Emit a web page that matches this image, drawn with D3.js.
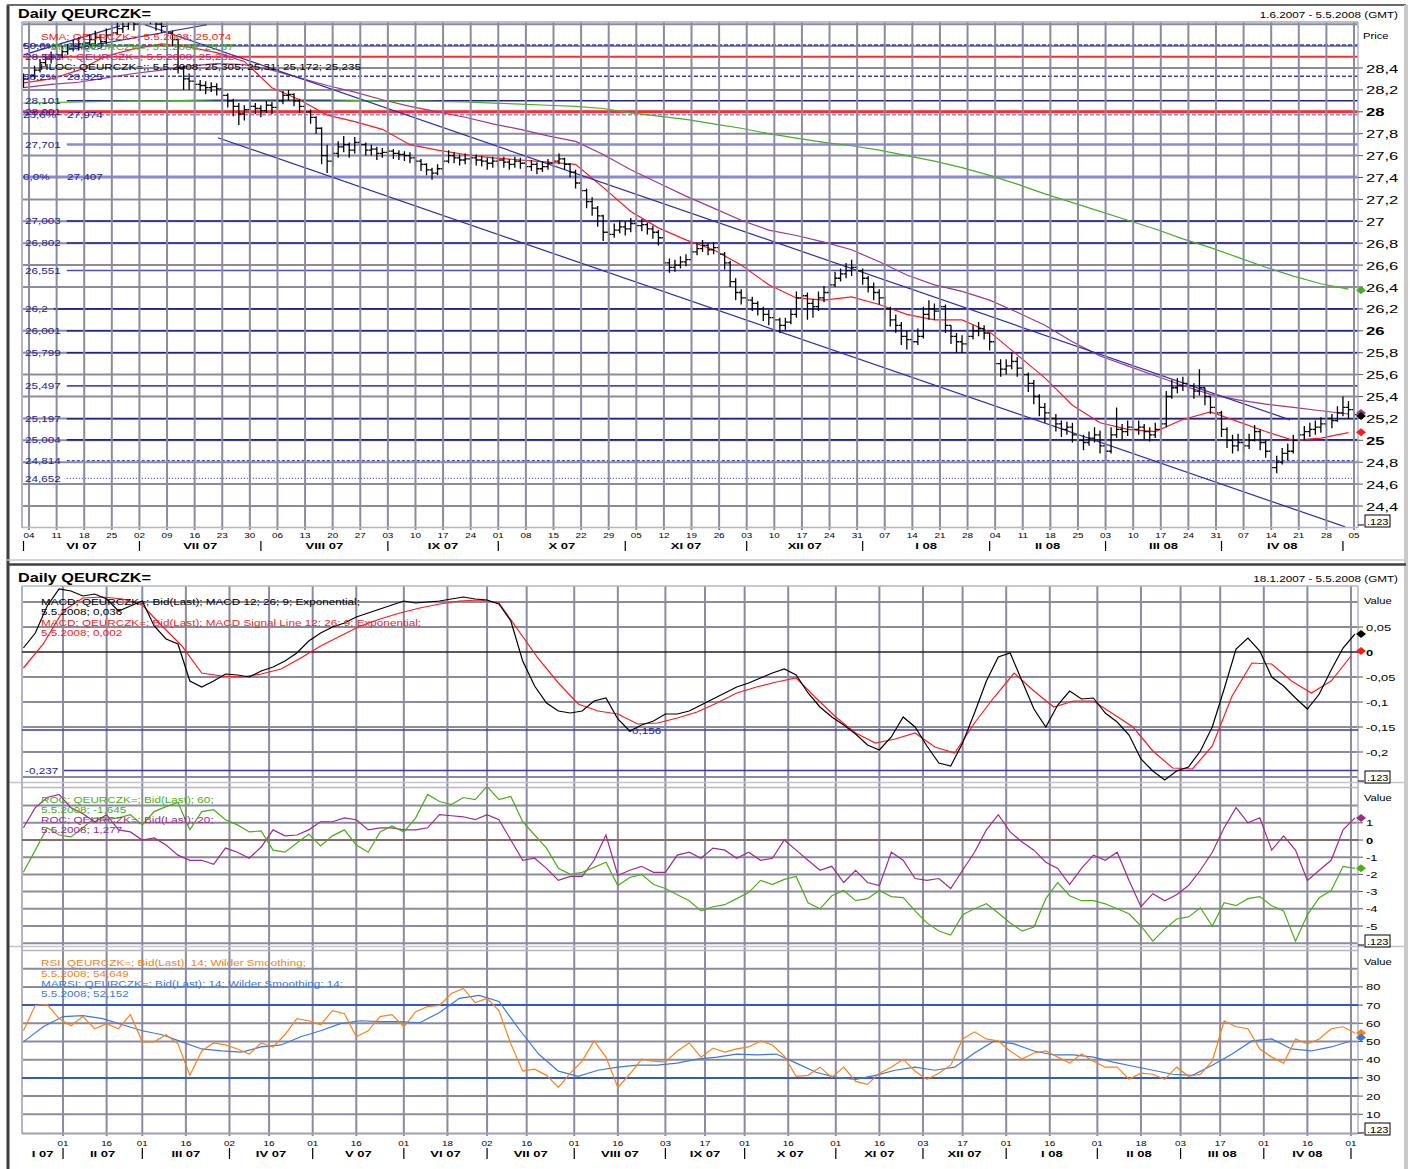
<!DOCTYPE html>
<html>
<head>
<meta charset="utf-8">
<script src="https://cdn.jsdelivr.net/npm/d3@7/dist/d3.min.js"></script>
<style>
body { margin: 0; background: #fff; }
svg { display: block; }
text { font-family: "Liberation Sans", Arial, sans-serif; }
</style>
</head>
<body>
<svg id="chart" width="1410" height="1169"></svg>
<script>
// ---------- top panel: daily bars 1.6.2007 - 5.5.2008 (one value per trading day) ----------
var closes = [28.30,
  28.33,28.38,28.45,28.48,28.50, 28.52,28.55,28.58,28.60,28.62, 28.63,28.66,28.68,28.64,28.70, 28.72,28.76,28.78,28.82,28.80,
  28.88,28.92,28.85,28.80,28.78, 28.72,28.66,28.40,28.30,28.28, 28.25,28.24,28.22,28.23,28.21, 28.15,28.10,28.05,27.98,28.02,
  28.05,28.03,28.01,28.06,28.04, 28.10,28.15,28.16,28.10,28.05, 28.00,27.95,27.85,27.60,27.55, 27.62,27.68,27.70,27.65,27.72,
  27.70,27.65,27.66,27.62,27.63, 27.64,27.62,27.61,27.60,27.58, 27.55,27.52,27.47,27.44,27.48, 27.55,27.60,27.58,27.56,27.57,
  27.58,27.56,27.55,27.53,27.55, 27.56,27.54,27.52,27.55,27.53, 27.50,27.52,27.48,27.50,27.53, 27.55,27.57,27.52,27.45,27.35,
  27.28,27.18,27.12,27.05,26.90, 26.88,26.92,26.95,26.93,26.98, 26.96,26.97,26.93,26.90,26.85, 26.62,26.58,26.60,26.63,26.65,
  26.72,26.75,26.78,26.74,26.76, 26.70,26.62,26.45,26.35,26.30, 26.28,26.25,26.20,26.15,26.12, 26.10,26.05,26.08,26.15,26.30,
  26.32,26.25,26.22,26.30,26.35, 26.42,26.48,26.52,26.55,26.58, 26.55,26.48,26.40,26.35,26.30, 26.20,26.10,26.05,25.95,25.92,
  25.90,25.95,26.15,26.20,26.18, 26.22,26.05,25.95,25.90,25.88, 25.95,26.00,26.02,25.98,25.90, 25.70,25.65,25.68,25.72,25.66,
  25.60,25.52,25.40,25.30,25.25, 25.20,25.15,25.10,25.12,25.05, 25.00,24.98,25.02,25.05,24.95, 24.90,25.05,25.10,25.08,25.12,
  25.10,25.12,25.08,25.05,25.10, 25.15,25.40,25.48,25.50,25.52, 25.50,25.45,25.48,25.40,25.30, 25.25,25.10,25.00,24.95,24.98,
  24.95,25.00,25.08,24.98,24.90, 24.75,24.80,24.88,24.90,25.00, 25.05,25.08,25.10,25.12,25.15, 25.20,25.18,25.25,25.30,25.28,
  25.235]
var highs = [28.35,
  28.38,28.42,28.48,28.52,28.55, 28.56,28.60,28.62,28.66,28.68, 28.68,28.71,28.74,28.70,28.76, 28.78,28.82,28.84,28.88,28.86,
  28.93,28.96,28.93,28.87,28.84, 28.80,28.74,28.67,28.42,28.35, 28.31,28.29,28.28,28.27,28.26, 28.22,28.17,28.12,28.08,28.06,
  28.09,28.08,28.06,28.10,28.09, 28.14,28.19,28.20,28.17,28.12, 28.07,28.02,27.96,27.86,27.70, 27.68,27.73,27.78,27.72,27.77,
  27.76,27.72,27.70,27.68,27.67, 27.68,27.66,27.65,27.64,27.63, 27.60,27.57,27.53,27.49,27.52, 27.58,27.65,27.63,27.61,27.62,
  27.62,27.61,27.60,27.58,27.59, 27.61,27.59,27.57,27.59,27.58, 27.56,27.56,27.54,27.55,27.57, 27.59,27.62,27.58,27.53,27.47,
  27.36,27.30,27.22,27.14,27.06, 26.95,26.98,27.01,27.00,27.03, 27.02,27.02,26.99,26.96,26.92, 26.80,26.66,26.65,26.68,26.70,
  26.76,26.80,26.83,26.80,26.81, 26.78,26.72,26.64,26.48,26.38, 26.34,26.31,26.27,26.22,26.19, 26.16,26.12,26.12,26.20,26.36,
  26.40,26.35,26.29,26.36,26.41, 26.47,26.54,26.57,26.62,26.65, 26.62,26.57,26.50,26.44,26.38, 26.32,26.22,26.15,26.08,26.00,
  25.97,26.02,26.22,26.28,26.25, 26.30,26.24,26.05,25.98,25.96, 26.00,26.05,26.08,26.05,25.98, 25.85,25.74,25.74,25.80,25.76,
  25.70,25.62,25.55,25.42,25.34, 25.30,25.24,25.18,25.17,25.16, 25.08,25.05,25.08,25.12,25.09, 24.98,25.12,25.30,25.15,25.18,
  25.17,25.18,25.15,25.12,25.16, 25.20,25.45,25.55,25.57,25.58, 25.57,25.52,25.65,25.48,25.40, 25.33,25.27,25.12,25.05,25.06,
  25.02,25.06,25.14,25.10,25.00, 24.92,24.86,24.93,24.97,25.05, 25.10,25.13,25.16,25.18,25.21, 25.26,25.24,25.31,25.40,25.36,
  25.31]
var lows = [28.22,
  28.26,28.30,28.36,28.42,28.44, 28.46,28.49,28.52,28.55,28.56, 28.57,28.60,28.62,28.58,28.62, 28.66,28.70,28.72,28.75,28.74,
  28.79,28.84,28.80,28.74,28.72, 28.66,28.60,28.35,28.20,28.20, 28.18,28.19,28.16,28.18,28.15, 28.10,28.04,27.96,27.88,27.92,
  27.96,27.98,27.95,27.99,27.98, 28.02,28.07,28.10,28.05,27.99, 27.94,27.89,27.80,27.52,27.44, 27.50,27.58,27.63,27.58,27.62,
  27.64,27.60,27.60,27.56,27.58, 27.58,27.57,27.56,27.55,27.53, 27.50,27.46,27.42,27.38,27.42, 27.46,27.53,27.53,27.51,27.52,
  27.52,27.51,27.50,27.47,27.49, 27.50,27.49,27.47,27.49,27.48, 27.45,27.46,27.43,27.45,27.47, 27.49,27.52,27.47,27.40,27.30,
  27.20,27.12,27.05,26.95,26.82, 26.80,26.85,26.89,26.87,26.90, 26.90,26.91,26.88,26.84,26.78, 26.55,26.53,26.54,26.57,26.59,
  26.64,26.69,26.72,26.69,26.70, 26.64,26.56,26.40,26.28,26.24, 26.21,26.18,26.14,26.09,26.05, 26.02,25.98,26.01,26.06,26.12,
  26.24,26.10,26.12,26.18,26.26, 26.33,26.40,26.45,26.48,26.50, 26.48,26.42,26.35,26.28,26.24, 26.14,26.04,25.98,25.87,25.83,
  25.82,25.87,25.93,26.10,26.10, 26.12,25.98,25.88,25.80,25.80, 25.86,25.92,25.95,25.92,25.82, 25.62,25.58,25.60,25.65,25.58,
  25.52,25.44,25.33,25.22,25.16, 25.12,25.08,25.03,25.05,24.98, 24.93,24.91,24.95,24.98,24.88, 24.82,24.88,25.02,25.01,25.04,
  25.03,25.05,25.01,24.99,25.02, 25.05,25.12,25.38,25.43,25.45, 25.44,25.38,25.41,25.32,25.24, 25.18,25.03,24.93,24.88,24.90,
  24.88,24.92,24.99,24.91,24.84, 24.30,24.70,24.78,24.82,24.88, 24.97,25.00,25.03,25.05,25.07, 25.12,25.11,25.17,25.22,25.20,
  25.172]

// moving averages, one value per week (every 5 trading days)
var smaRed = [28.265,28.30,28.38,28.51,28.575,28.62,28.59,28.54,28.46,28.22,28.11,27.97,27.91,27.84,27.70,27.65,27.61,27.58,27.56,27.54,
  27.52,27.31,27.09,26.94,26.83,26.74,26.60,26.42,26.30,26.28,26.31,26.24,26.15,26.10,26.10,25.99,25.78,25.57,25.32,25.16,
  25.10,25.08,25.19,25.26,25.17,25.08,25.00,25.02,25.07]
var smaPurple = [28.22,28.25,28.27,28.31,28.35,28.38,28.42,28.44,28.43,28.38,28.31,28.24,28.18,28.11,28.05,28.00,27.95,27.89,27.84,27.78,
  27.73,27.61,27.47,27.35,27.23,27.12,27.01,26.92,26.87,26.81,26.74,26.63,26.51,26.42,26.36,26.28,26.17,26.05,25.90,25.77,
  25.68,25.59,25.50,25.42,25.37,25.33,25.30,25.27,25.24]
var smaGreen = [28.08,28.085,28.09,28.095,28.10,28.10,28.105,28.11,28.11,28.11,28.11,28.11,28.105,28.10,28.10,28.095,28.09,28.08,28.07,28.06,
  28.05,28.03,27.99,27.96,27.93,27.89,27.85,27.80,27.76,27.72,27.69,27.65,27.60,27.55,27.49,27.42,27.34,27.25,27.17,27.09,
  27.01,26.93,26.84,26.76,26.67,26.58,26.50,26.43,26.38]
var lastTop = { red: 25.074, purple: 25.232, green: 26.37, close: 25.235 }

// horizontal levels (price) and fibonacci retracement
var fibLevels = [28.609, 28.325, 27.974, 27.407]
var fibPct = ['50,0%', '38,2%', '23,6%', '0,0%']
var redLevels = [28.503, 28.001]
var navyLevels = [28.101, 27.003, 26.802, 26.2, 26.001, 25.799, 25.197, 25.004]
var blueLevels = [26.551, 25.497]
var lightLevels = [27.701]
var dashedLevels = [24.814]
var dottedLevels = [24.652]
// trend lines: [trading day, price, trading day, price]
var trendLines = [[0, 28.52, 17.5, 28.785], [7.9, 28.566, 33.2, 28.795], [22, 28.795, 229.4, 25.187], [35.2, 27.763, 239.4, 24.21]]

var priceTicks = [28.4, 28.2, 28, 27.8, 27.6, 27.4, 27.2, 27, 26.8, 26.6, 26.4, 26.2, 26, 25.8, 25.6, 25.4, 25.2, 25, 24.8, 24.6, 24.4]
var topMonthStarts = ['2007-06-01','2007-07-02','2007-08-01','2007-09-03','2007-10-01','2007-11-01','2007-12-03','2008-01-01','2008-02-01','2008-03-03','2008-04-01','2008-05-01']
var topMonthNames = ['VI 07','VII 07','VIII 07','IX 07','X 07','XI 07','XII 07','I 08','II 08','III 08','IV 08']

// ---------- bottom panels 18.1.2007 - 5.5.2008 ----------
// MACD every 3 trading days, signal every 5
var macd = [0.008,0.038,0.092,0.126,0.122,0.112,0.116,0.106,0.082,0.092,
  0.102,0.052,0.026,0.016,-0.058,-0.070,-0.058,-0.044,-0.046,-0.050,
  -0.038,-0.030,-0.018,-0.002,0.022,0.038,0.050,0.058,0.070,0.078,
  0.086,0.094,0.102,0.098,0.100,0.102,0.106,0.110,0.106,0.104,
  0.096,0.062,-0.018,-0.068,-0.102,-0.118,-0.122,-0.118,-0.098,-0.092,
  -0.134,-0.158,-0.146,-0.138,-0.124,-0.124,-0.118,-0.106,-0.094,-0.082,
  -0.070,-0.062,-0.052,-0.042,-0.034,-0.046,-0.082,-0.110,-0.130,-0.146,
  -0.164,-0.186,-0.196,-0.170,-0.130,-0.150,-0.188,-0.222,-0.228,-0.182,
  -0.122,-0.058,-0.010,-0.002,-0.058,-0.114,-0.150,-0.106,-0.078,-0.094,
  -0.092,-0.122,-0.140,-0.166,-0.214,-0.238,-0.256,-0.238,-0.230,-0.198,
  -0.150,-0.074,0.006,0.028,0.002,-0.050,-0.068,-0.092,-0.114,-0.084,
  -0.036,0.008,0.036]
var macdSignal = [-0.032,0.016,0.082,0.108,0.110,0.106,0.094,0.052,0.012,-0.042,
  -0.048,-0.050,-0.044,-0.034,-0.012,0.012,0.032,0.052,0.066,0.078,
  0.088,0.096,0.102,0.104,0.098,0.042,-0.014,-0.062,-0.104,-0.118,
  -0.124,-0.144,-0.142,-0.132,-0.120,-0.102,-0.082,-0.070,-0.060,-0.052,
  -0.092,-0.130,-0.162,-0.182,-0.174,-0.162,-0.190,-0.202,-0.142,-0.090,
  -0.042,-0.078,-0.110,-0.098,-0.098,-0.124,-0.150,-0.198,-0.232,-0.234,
  -0.188,-0.088,-0.022,-0.024,-0.058,-0.082,-0.058,-0.008]
var macdLevels = [-0.156, -0.237]
// ROC every 3 trading days
var roc60 = [-1.88,-0.59,0.71,0.29,0.18,0.71,1.29,1.18,1.29,1.47,
  0.88,1.65,1.94,2.18,0.59,1.65,1.76,1.18,0.88,0.47,
  0.53,-0.59,-0.71,-0.18,0.35,-0.35,0.24,0.59,-0.29,-0.71,
  0.47,0.82,0.47,1.29,2.65,2.24,2.06,2.47,2.35,3.12,
  2.35,2.53,1.06,0.29,-0.47,-1.65,-2.0,-1.88,-1.59,-1.29,
  -2.65,-2.18,-2.0,-2.59,-2.82,-3.18,-3.53,-4.12,-3.88,-3.76,
  -3.41,-3.06,-2.35,-2.59,-2.29,-2.12,-3.65,-4.0,-3.24,-2.94,
  -3.53,-3.41,-2.94,-3.29,-3.35,-4.12,-4.82,-5.29,-5.53,-4.35,
  -4.0,-3.71,-4.24,-4.82,-5.29,-5.06,-3.41,-2.47,-3.24,-3.53,
  -3.53,-3.71,-4.0,-4.29,-5.0,-5.88,-5.18,-4.59,-4.47,-3.94,
  -5.0,-3.65,-3.82,-3.41,-3.29,-3.82,-4.12,-5.88,-4.35,-3.35,
  -2.94,-1.53,-1.645]
var roc20 = [0.71,1.88,2.47,2.65,1.88,1.53,1.06,1.47,0.59,0.47,
  0.0,0.12,-0.29,-0.88,-1.18,-1.18,-1.41,-0.47,-0.71,-1.06,
  -0.41,0.59,0.24,0.29,0.59,1.06,1.06,1.29,1.18,0.59,
  0.71,0.71,0.59,0.59,0.71,1.47,1.41,1.35,1.18,1.47,
  1.18,0.0,-1.18,-1.06,-1.65,-2.35,-2.12,-2.12,-1.18,0.29,
  -2.06,-1.76,-1.53,-1.88,-1.88,-0.88,-0.71,-1.06,-0.47,-0.59,
  -1.06,-0.71,-1.18,-1.06,0.0,-0.59,-1.18,-1.76,-1.53,-2.47,
  -1.76,-2.47,-2.65,-0.71,-1.18,-2.24,-2.35,-2.24,-2.82,-1.76,
  -0.71,0.59,1.47,0.47,-0.12,-0.59,-1.29,-1.65,-2.59,-1.65,
  -0.88,-1.18,-0.71,-2.35,-3.88,-3.12,-3.53,-3.18,-2.65,-1.76,
  -0.71,0.71,1.88,1.0,1.29,-0.59,0.24,-0.59,-2.35,-1.76,
  -1.18,0.59,1.29]
// RSI every 3 trading days, MARSI every 5
var rsi = [55.9,69.8,70.3,62.6,58.7,63.7,57.0,59.8,57.0,64.8,
  49.8,49.8,53.7,48.7,31.4,44.8,49.2,48.1,45.9,43.1,
  49.2,47.0,53.7,62.6,61.4,59.2,67.0,65.3,52.6,55.9,
  63.7,64.8,58.1,66.4,69.2,69.8,76.4,79.2,71.4,73.7,
  67.0,48.7,33.7,34.8,31.4,24.8,32.6,39.2,50.3,41.4,
  24.8,32.0,40.3,39.2,38.7,44.8,49.2,41.4,46.4,44.2,
  45.9,47.0,50.3,48.1,42.0,30.9,31.4,35.9,30.3,35.9,
  28.1,26.4,32.6,35.9,40.3,33.7,29.2,32.6,37.0,51.4,
  55.3,51.4,50.3,44.8,40.3,43.7,44.8,41.4,38.1,43.1,
  39.2,35.9,35.9,29.2,32.6,32.0,29.2,35.9,30.9,32.0,
  39.2,61.4,58.1,57.0,45.9,41.4,38.1,51.4,48.7,51.4,
  57.0,58.1,54.649]
var marsi = [49.8,58.1,63.7,64.2,62.6,59.2,55.9,53.7,49.8,45.9,
  44.8,44.2,47.0,48.1,52.6,55.9,59.8,61.4,60.9,60.9,
  60.3,65.9,73.7,75.3,72.0,57.0,43.1,33.7,30.9,34.2,
  35.9,37.0,37.0,38.1,40.3,41.4,43.1,42.6,43.1,38.1,
  33.1,30.3,29.2,31.4,34.2,35.9,34.2,35.9,43.7,50.3,
  48.7,44.8,42.6,42.6,41.4,38.7,36.4,34.2,32.0,31.4,
  37.0,43.1,50.3,51.4,45.9,44.8,47.0,50.3]
var rsiLevels = [70, 30]
var lastBottom = { macd: 0.036, signal: 0.002, roc60: -1.645, roc20: 1.277, rsi: 54.649, marsi: 52.152 }

var bottomTicks = ['2007-02-01','2007-02-16','2007-03-01','2007-03-16','2007-04-02','2007-04-16','2007-05-01','2007-05-16',
  '2007-06-01','2007-06-18','2007-07-02','2007-07-16','2007-08-01','2007-08-16','2007-09-03','2007-09-17','2007-10-01',
  '2007-10-16','2007-11-01','2007-11-16','2007-12-03','2007-12-17','2008-01-01','2008-01-16','2008-02-01','2008-02-18',
  '2008-03-03','2008-03-17','2008-04-01','2008-04-16','2008-05-01']
var bottomMonthNames = ['I 07','II 07','III 07','IV 07','V 07','VI 07','VII 07','VIII 07','IX 07','X 07','XI 07','XII 07','I 08','II 08','III 08','IV 08']
var macdTicks = [0.05, 0, -0.05, -0.1, -0.15, -0.2]
var rocTicks = [1, 0, -1, -2, -3, -4, -5]
var rsiTicks = [80, 70, 60, 50, 40, 30, 20, 10]

// ---------------------------------------------------------------
var svg = d3.select('#chart')
var GRID = '#8b8b9f'
var NAVY = '#22229a'
var parse = d3.timeParse('%Y-%m-%d')
var comma = function(v) { return String(v).replace('.', ',') }

function txt(g, x, y, s, o) {
    o = o || {}
    return g.append('text')
        .attr('transform', 'translate(' + x + ',' + y + ') scale(' + (o.sx || 1.26) + ',1)')
        .attr('font-size', o.size || 9.3)
        .attr('font-weight', o.bold ? 'bold' : 'normal')
        .attr('text-anchor', o.anchor || 'start')
        .attr('fill', o.fill || '#000')
        .text(s)
}
function ln(g, x1, y1, x2, y2, col, w, dash) {
    return g.append('line')
        .attr('x1', x1).attr('y1', y1).attr('x2', x2).attr('y2', y2)
        .attr('stroke', col).attr('stroke-width', w)
        .attr('stroke-dasharray', dash || null)
}
function tradeIdx(start, d) {
    return d3.timeDay.range(start, d).filter(function(x) { return x.getDay() % 6 !== 0 }).length
}
function diamond(g, x, y, col) {
    g.append('path').attr('d', 'M' + (x - 5) + ',' + y + 'L' + x + ',' + (y - 4) + 'L' + (x + 5) + ',' + y + 'L' + x + ',' + (y + 4) + 'Z')
        .attr('fill', col)
}
function valueBox(g, y) {
    g.append('rect').attr('x', 1365).attr('y', y - 6).attr('width', 25).attr('height', 12)
        .attr('fill', '#fff').attr('stroke', '#000').attr('stroke-width', 1)
    txt(g, 1367, y + 3.5, '.123', { size: 8.5, sx: 1.3 })
    ln(g, 1358, y + 4, 1364, y + 4, '#000', 1)
}

var defs = svg.append('defs')
function clip(id, x, y, w, h) {
    defs.append('clipPath').attr('id', id).append('rect').attr('x', x).attr('y', y).attr('width', w).attr('height', h)
    return 'url(#' + id + ')'
}

svg.append('rect').attr('width', 1410).attr('height', 1169).attr('fill', '#fff')

// ================= TOP PANEL =================
var topStart = new Date(2007, 5, 1)
var tx = d3.scaleLinear().domain([0, 241]).range([23.5, 1354])
var ty = d3.scaleLinear().domain([24.4, 28.4]).range([506, 68])
var gT = svg.append('g')
var gTc = gT.append('g').attr('clip-path', clip('ctop', 22, 22, 1336, 505))

// grid
var gridPrices = d3.range(0, 23).map(function(i) { return 24.4 + i * 0.2 })
gTc.selectAll('line.hg').data(gridPrices).enter().append('line')
    .attr('x1', 22).attr('x2', 1358)
    .attr('y1', function(d) { return ty(d) }).attr('y2', function(d) { return ty(d) })
    .attr('stroke', GRID).attr('stroke-width', 2)
var mondays = d3.timeMonday.range(new Date(2007, 5, 4), new Date(2008, 4, 6))
gT.selectAll('line.vg').data(mondays).enter().append('line')
    .attr('x1', function(d) { return tx(tradeIdx(topStart, d)) })
    .attr('x2', function(d) { return tx(tradeIdx(topStart, d)) })
    .attr('y1', 22).attr('y2', 530)
    .attr('stroke', GRID).attr('stroke-width', 2)
ln(gT, 22, 22, 1358, 22, '#a8a8b8', 1.5)
ln(gT, 22, 22, 22, 528, '#b4b4c4', 2)
ln(gT, 22, 527.5, 1358, 527.5, '#b4b4c4', 1.5)
ln(gT, 1358, 22, 1358, 528, '#b4b4c4', 1.5)

// levels
fibLevels.forEach(function(v, i) {
    var solid = fibPct[i] === '0,0%'
    ln(gTc, 22, ty(v), 1358, ty(v), solid ? '#8888dd' : (i === 2 ? '#8c8ce0' : '#3a3ac4'), solid ? 2.5 : 1.5, solid ? null : '4,2')
})
redLevels.forEach(function(v, i) { ln(gTc, 22, ty(v), 1358, ty(v), '#ff2a2a', i ? 3 : 2) })
function levelWithLabel(v, col, w, dash) {
    var t = txt(gT, 25, ty(v) + 3.5, comma(v), { fill: NAVY })
    var wdt = t.node().getComputedTextLength() * 1.26
    ln(gTc, 25 + wdt + 6, ty(v), 1358, ty(v), col, w, dash)
}
navyLevels.forEach(function(v) { levelWithLabel(v, '#22228c', 1.6) })
blueLevels.forEach(function(v) { levelWithLabel(v, '#4a4ac8', 1.6) })
lightLevels.forEach(function(v) { levelWithLabel(v, '#8888dd', 2.5) })
dashedLevels.forEach(function(v) { levelWithLabel(v, '#4848c0', 1.3, '3,2') })
dottedLevels.forEach(function(v) { levelWithLabel(v, '#4848c0', 1.3, '1,2') })
redLevels.forEach(function(v) { txt(gT, 25, ty(v) + 3.5, comma(v), { fill: NAVY }) })
fibLevels.forEach(function(v, i) {
    txt(gT, 23, ty(v) + 3.5, fibPct[i], { fill: NAVY })
    txt(gT, 67, ty(v) + 3.5, comma(v), { fill: NAVY })
})

// moving averages
var weekLine = d3.line().x(function(d, i) { return tx(i * 5) }).y(function(d) { return ty(d) })
gTc.append('path').datum(smaGreen).attr('d', weekLine).attr('fill', 'none').attr('stroke', '#44b022').attr('stroke-width', 1.2)
gTc.append('path').datum(smaPurple).attr('d', weekLine).attr('fill', 'none').attr('stroke', '#a03592').attr('stroke-width', 1.2)
gTc.append('path').datum(smaRed).attr('d', weekLine).attr('fill', 'none').attr('stroke', '#ff1a1a').attr('stroke-width', 1.2)

// trend lines
gTc.selectAll('line.trend').data(trendLines).enter().append('line')
    .attr('x1', function(d) { return tx(d[0]) }).attr('y1', function(d) { return ty(d[1]) })
    .attr('x2', function(d) { return tx(d[2]) }).attr('y2', function(d) { return ty(d[3]) })
    .attr('stroke', '#2a2ab0').attr('stroke-width', 1.2)

// bars
gTc.selectAll('path.bar').data(closes).enter().append('path')
    .attr('d', function(c, i) {
        var o = i ? closes[i - 1] : c
        var x = tx(i)
        var hi = Math.max(highs[i], o, c), lo = Math.min(lows[i], o, c)
        return 'M' + x + ',' + ty(hi) + 'V' + ty(lo) +
            'M' + (x - 2.6) + ',' + ty(o) + 'H' + x +
            'M' + x + ',' + ty(c) + 'H' + (x + 2.6)
    })
    .attr('stroke', '#000').attr('stroke-width', 1.3).attr('fill', 'none')

// legend
txt(gT, 41, 40, 'SMA; QEURCZK=; 5.5.2008; ' + comma(lastTop.red), { fill: '#ff1a1a' })
txt(gT, 50, 50, 'SMA; QEURCZK=; 5.5.2008; ' + comma(lastTop.green), { fill: '#44b022' })
txt(gT, 44, 59.5, 'SMA; QEURCZK=; 5.5.2008; ' + comma(lastTop.purple), { fill: '#a03592' })
txt(gT, 40, 69.5, 'HLOC; QEURCZK=;; 5.5.2008; 25,305; 25,31; 25,172; ' + comma(lastTop.close), { fill: '#000' })

// right price axis
priceTicks.forEach(function(v) {
    ln(gT, 1358, ty(v), 1363, ty(v), '#555', 1)
    var b = v === 28 || v === 26 || v === 25
    txt(gT, 1366, ty(v) + 4.5, comma(+v.toFixed(1)), { size: 10.7, sx: 1.55, bold: b })
})
txt(gT, 1363, 39, 'Price', { size: 8.8, sx: 1.27 })
diamond(gT, 1361, ty(lastTop.green), '#44b022')
diamond(gT, 1361, ty(lastTop.purple) - 2, '#a03592')
diamond(gT, 1361, ty(lastTop.close) + 1.5, '#000')
diamond(gT, 1361, ty(lastTop.red), '#ff1a1a')
valueBox(gT, 521)

// bottom date axis of top panel
mondays.forEach(function(d) {
    var x = tx(tradeIdx(topStart, d))
    txt(gT, x, 538, d3.timeFormat('%d')(d), { size: 7.6, sx: 1.3, anchor: 'middle' })
})
var tms = topMonthStarts.map(function(s) { return tx(tradeIdx(topStart, parse(s))) })
tms.forEach(function(x) { ln(gT, x, 541, x, 551, '#000', 1.2) })
topMonthNames.forEach(function(m, i) {
    txt(gT, (tms[i] + tms[i + 1]) / 2, 549, m, { size: 9, sx: 1.45, bold: true, anchor: 'middle' })
})

txt(gT, 18, 18, 'Daily QEURCZK=', { size: 12.5, sx: 1.3, bold: true })
txt(gT, 1398, 18, '1.6.2007 - 5.5.2008 (GMT)', { size: 9, sx: 1.3, anchor: 'end' })

// ================= BOTTOM PANELS =================
var botStart = new Date(2007, 0, 18)
var bx = d3.scaleLinear().domain([0, 337]).range([23.4, 1358.9])
var yMacd = d3.scaleLinear().domain([0, -0.2]).range([652, 752])
var yRoc = d3.scaleLinear().domain([0, -5]).range([840, 926])
var yRsi = d3.scaleLinear().domain([0, 100]).range([1132.5, 950.5])
var gB = svg.append('g')
var tickX = bottomTicks.map(function(s) { return bx(tradeIdx(botStart, parse(s))) })

// horizontal grid
;[0.1, 0.05, -0.05, -0.1, -0.15, -0.2, -0.25].forEach(function(v) { ln(gB, 22, yMacd(v), 1358, yMacd(v), GRID, 2) })
;[2, 1, -1, -2, -3, -4, -5, -6].forEach(function(v) { ln(gB, 22, yRoc(v), 1358, yRoc(v), GRID, 2) })
;[90, 80, 60, 50, 40, 20, 10].forEach(function(v) { ln(gB, 22, yRsi(v), 1358, yRsi(v), GRID, 2) })
// vertical grid
tickX.forEach(function(x) { ln(gB, x, 586, x, 1136, GRID, 2) })
// frames
ln(gB, 22, 586, 1358, 586, '#b4b4c4', 1.5)
ln(gB, 7, 782.5, 1406, 782.5, '#c4c4cc', 1.5)
ln(gB, 22, 787.5, 1358, 787.5, '#b4b4c4', 1.5)
ln(gB, 7, 946.5, 1406, 946.5, '#c4c4cc', 1.5)
ln(gB, 22, 950.5, 1358, 950.5, '#b4b4c4', 1.5)
ln(gB, 22, 586, 22, 1134, '#b4b4c4', 2)
ln(gB, 1358, 586, 1358, 1134, '#b4b4c4', 1.5)
ln(gB, 22, 1133.5, 1358, 1133.5, '#a0a0b0', 2)

// MACD
var cM = gB.append('g').attr('clip-path', clip('cmacd', 22, 586, 1336, 196))
ln(cM, 22, yMacd(0), 1358, yMacd(0), '#222', 1.5)
ln(cM, 22, yMacd(macdLevels[0]), 1358, yMacd(macdLevels[0]), '#3a3ab0', 1.3)
ln(cM, 64, yMacd(macdLevels[1]), 1358, yMacd(macdLevels[1]), '#3a3ab0', 1.3)
var l3 = d3.line().x(function(d, i) { return bx(i * 3) })
var l5 = d3.line().x(function(d, i) { return bx(i * 5) })
cM.append('path').datum(macdSignal).attr('d', l5.y(function(d) { return yMacd(d) }))
    .attr('fill', 'none').attr('stroke', '#ff1a1a').attr('stroke-width', 1.2)
cM.append('path').datum(macd).attr('d', l3.y(function(d) { return yMacd(d) }))
    .attr('fill', 'none').attr('stroke', '#000').attr('stroke-width', 1.2)
txt(gB, 628, yMacd(macdLevels[0]) + 3.5, comma(macdLevels[0]), { fill: NAVY })
txt(gB, 25, yMacd(macdLevels[1]) + 3.5, comma(macdLevels[1]), { fill: NAVY })
txt(gB, 41, 605, 'MACD; QEURCZK=; Bid(Last); MACD 12; 26; 9; Exponential;')
txt(gB, 41, 615, '5.5.2008; ' + comma(lastBottom.macd))
txt(gB, 41, 626, 'MACD; QEURCZK=; Bid(Last); MACD Signal Line 12; 26; 9; Exponential;', { fill: '#ff1a1a' })
txt(gB, 41, 636, '5.5.2008; ' + comma(lastBottom.signal), { fill: '#ff1a1a' })
macdTicks.forEach(function(v) {
    ln(gB, 1358, yMacd(v), 1363, yMacd(v), '#555', 1)
    txt(gB, 1366, yMacd(v) + 3.5, comma(v), { size: 8.6, sx: 1.5, bold: v === 0 })
})
txt(gB, 1364, 604, 'Value', { size: 8.8, sx: 1.27 })
diamond(gB, 1361, yMacd(lastBottom.macd), '#000')
diamond(gB, 1361, yMacd(lastBottom.signal), '#ff1a1a')
valueBox(gB, 777)

// ROC
var cR = gB.append('g').attr('clip-path', clip('croc', 22, 787, 1336, 159))
ln(cR, 22, yRoc(0), 1358, yRoc(0), '#8a6a6a', 2)
cR.append('path').datum(roc20).attr('d', l3.y(function(d) { return yRoc(d) }))
    .attr('fill', 'none').attr('stroke', '#a02a8e').attr('stroke-width', 1.2)
cR.append('path').datum(roc60).attr('d', l3.y(function(d) { return yRoc(d) }))
    .attr('fill', 'none').attr('stroke', '#4aae14').attr('stroke-width', 1.2)
txt(gB, 41, 803, 'ROC; QEURCZK=; Bid(Last);  60;', { fill: '#4aae14' })
txt(gB, 41, 813, '5.5.2008; ' + comma(lastBottom.roc60), { fill: '#4aae14' })
txt(gB, 41, 823, 'ROC; QEURCZK=; Bid(Last);  20;', { fill: '#a02a8e' })
txt(gB, 41, 833, '5.5.2008; ' + comma(lastBottom.roc20), { fill: '#a02a8e' })
rocTicks.forEach(function(v) {
    ln(gB, 1358, yRoc(v), 1363, yRoc(v), '#555', 1)
    txt(gB, 1366, yRoc(v) + 3.5, comma(v), { size: 8.6, sx: 1.5, bold: v === 0 })
})
txt(gB, 1364, 801, 'Value', { size: 8.8, sx: 1.27 })
diamond(gB, 1361, yRoc(lastBottom.roc20), '#a02a8e')
diamond(gB, 1361, yRoc(lastBottom.roc60), '#4aae14')
valueBox(gB, 941)

// RSI
var cS = gB.append('g').attr('clip-path', clip('crsi', 22, 950, 1336, 184))
rsiLevels.forEach(function(v) { ln(cS, 22, yRsi(v), 1358, yRsi(v), '#3558c8', 2) })
cS.append('path').datum(marsi).attr('d', l5.y(function(d) { return yRsi(d) }))
    .attr('fill', 'none').attr('stroke', '#3a78e0').attr('stroke-width', 1.2)
cS.append('path').datum(rsi).attr('d', l3.y(function(d) { return yRsi(d) }))
    .attr('fill', 'none').attr('stroke', '#ff8010').attr('stroke-width', 1.2)
txt(gB, 41, 966, 'RSI; QEURCZK=; Bid(Last);  14; Wilder Smoothing;', { fill: '#ff8010' })
txt(gB, 41, 976.5, '5.5.2008; ' + comma(lastBottom.rsi), { fill: '#ff8010' })
txt(gB, 41, 986.5, 'MARSI; QEURCZK=; Bid(Last);  14; Wilder Smoothing; 14;', { fill: '#3a78e0' })
txt(gB, 41, 996.5, '5.5.2008; ' + comma(lastBottom.marsi), { fill: '#3a78e0' })
rsiTicks.forEach(function(v) {
    ln(gB, 1358, yRsi(v), 1363, yRsi(v), '#555', 1)
    txt(gB, 1366, yRsi(v) + 3.5, comma(v), { size: 8.6, sx: 1.5 })
})
txt(gB, 1364, 965, 'Value', { size: 8.8, sx: 1.27 })
diamond(gB, 1361, yRsi(lastBottom.rsi), '#ff8010')
diamond(gB, 1361, yRsi(lastBottom.marsi), '#3a78e0')
valueBox(gB, 1129)

// bottom date axis
bottomTicks.forEach(function(s, i) {
    txt(gB, tickX[i], 1146, d3.timeFormat('%d')(parse(s)), { size: 7.6, sx: 1.3, anchor: 'middle' })
})
var bms = tickX.filter(function(x, i) { return parse(bottomTicks[i]).getDate() <= 3 })
bms.forEach(function(x) { ln(gB, x, 1148, x, 1159, '#000', 1.2) })
var bounds = [22].concat(bms)
bottomMonthNames.forEach(function(m, i) {
    txt(gB, (bounds[i] + bounds[i + 1]) / 2, 1157, m, { size: 9, sx: 1.45, bold: true, anchor: 'middle' })
})
txt(gB, 18, 582, 'Daily QEURCZK=', { size: 12.5, sx: 1.3, bold: true })
txt(gB, 1398, 582, '18.1.2007 - 5.5.2008 (GMT)', { size: 9, sx: 1.3, anchor: 'end' })

// outer frame
ln(svg, 8, 5, 8, 1169, '#3c3c3c', 3)
ln(svg, 7, 5, 1406, 5, '#6a6a6a', 2)
ln(svg, 1406, 5, 1406, 1169, '#cacaca', 4)
ln(svg, 7, 560, 1406, 560, '#c8c8c8', 1.5)
ln(svg, 7, 564.5, 1406, 564.5, '#404040', 2.5)
</script>
</body>
</html>
